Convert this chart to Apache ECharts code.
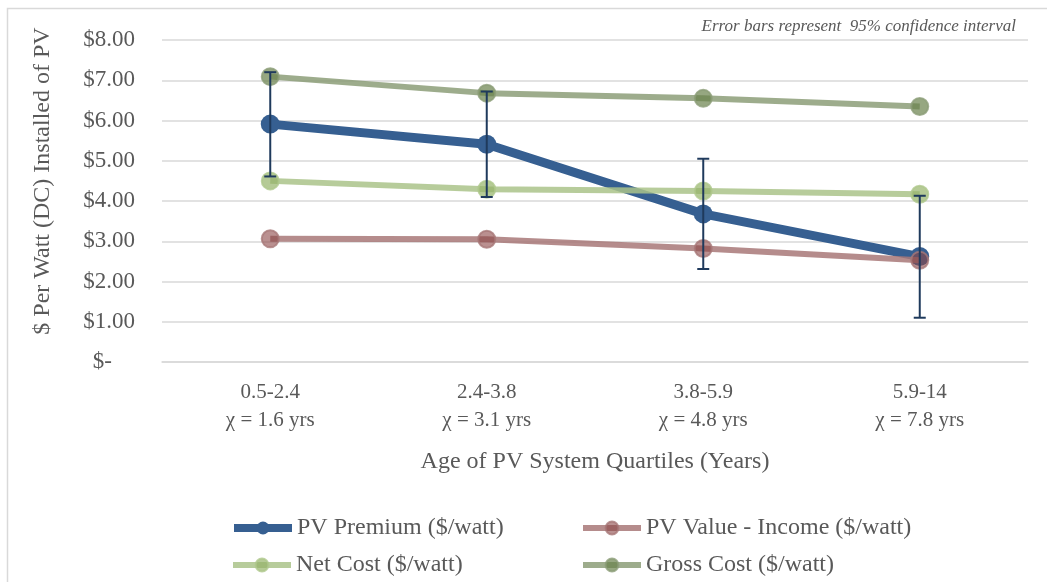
<!DOCTYPE html>
<html>
<head>
<meta charset="utf-8">
<script src="https://cdn.jsdelivr.net/npm/echarts@6/dist/echarts.min.js"></script>
<style>
  html, body { margin: 0; padding: 0; background: #fff; }
  #chart { width: 1047px; height: 582px; }
</style>
</head>
<body>
<div id="chart"></div>
<script>
const categories = ['0.5-2.4\nχ = 1.6 yrs', '2.4-3.8\nχ = 3.1 yrs', '3.8-5.9\nχ = 4.8 yrs', '5.9-14\nχ = 7.8 yrs']
const pvPremium = [5.91, 5.41, 3.68, 2.62]
const premiumLow = [4.61, 4.1, 2.31, 1.1]
const premiumHigh = [7.2, 6.72, 5.05, 4.13]
const pvValue = [3.06, 3.05, 2.82, 2.53]
const netCost = [4.5, 4.29, 4.25, 4.17]
const grossCost = [7.09, 6.68, 6.55, 6.35]
const yTicks = { min: 0, max: 8, interval: 1 }

const font = 'Liberation Serif'
const grey = '#595959'

const errData = categories.map((c, i) => [i, premiumLow[i], premiumHigh[i]])

// one legend per item so the two columns line up like the original
const legendItem = (name, left, top, width) => ({
  left, top,
  padding: 0,
  itemWidth: 58, itemHeight: 16,
  data: [name],
  lineStyle: { width },
  textStyle: { fontFamily: font, fontSize: 24, color: grey }
})

const chart = echarts.init(document.getElementById('chart'))
const option = {
  animation: false,
  textStyle: { fontFamily: font },
  grid: { left: 162, right: 19, top: 40, bottom: 220 },
  graphic: [
    {
      type: 'rect',
      shape: { x: 7.5, y: 8.5, width: 1060, height: 600 },
      style: { fill: 'none', stroke: '#d9d9d9', lineWidth: 1.5 },
      silent: true
    },
    {
      type: 'text',
      right: 31, top: 18,
      style: { text: 'Error bars represent  95% confidence interval', font: 'italic 17px "Liberation Serif"', fill: grey }
    }
  ],
  legend: [
    legendItem('PV Premium ($/watt)', 230, 516, 8),
    legendItem('Net Cost ($/watt)', 230, 553, 6),
    legendItem('PV Value - Income ($/watt)', 580, 516, 6),
    legendItem('Gross Cost ($/watt)', 580, 553, 6)
  ],
  xAxis: {
    type: 'category',
    data: categories,
    boundaryGap: true,
    axisLine: { lineStyle: { color: '#d9d9d9', width: 1.5 } },
    axisTick: { show: false },
    axisLabel: { fontFamily: font, fontSize: 21, lineHeight: 28, color: grey, margin: 16, interval: 0 },
    name: 'Age of PV System Quartiles (Years)',
    nameLocation: 'middle',
    nameGap: 88,
    nameTextStyle: { fontFamily: font, fontSize: 24, color: grey }
  },
  yAxis: {
    type: 'value',
    min: yTicks.min, max: yTicks.max, interval: yTicks.interval,
    axisLine: { show: false },
    axisTick: { show: false },
    splitLine: { lineStyle: { color: '#d9d9d9', width: 1.5 } },
    axisLabel: {
      fontFamily: font, fontSize: 23, color: grey, margin: 27,
      formatter: (v) => (v === 0 ? '$-    ' : '$' + v.toFixed(2))
    },
    name: '$ Per Watt (DC) Installed of PV',
    nameLocation: 'middle',
    nameGap: 107,
    nameTextStyle: { fontFamily: font, fontSize: 24, color: grey, padding: [0, 0, 0, 40] }
  },
  series: [
    {
      name: 'PV Premium ($/watt)',
      type: 'line',
      data: pvPremium,
      symbol: 'circle', symbolSize: 19,
      lineStyle: { color: '#365f91', width: 9 },
      itemStyle: { color: '#365f91' },
      z: 3
    },
    {
      name: 'PV Value - Income ($/watt)',
      type: 'line',
      data: pvValue,
      symbol: 'circle', symbolSize: 17,
      lineStyle: { color: '#a87878', width: 6, opacity: 0.85 },
      itemStyle: { color: 'rgba(140,70,70,0.6)', borderColor: 'rgba(168,120,120,0.8)', borderWidth: 2 },
      z: 4
    },
    {
      name: 'Net Cost ($/watt)',
      type: 'line',
      data: netCost,
      symbol: 'circle', symbolSize: 17,
      lineStyle: { color: '#aac38a', width: 6, opacity: 0.85 },
      itemStyle: { color: 'rgba(150,180,105,0.7)', borderColor: 'rgba(175,200,140,0.8)', borderWidth: 2 },
      z: 4
    },
    {
      name: 'Gross Cost ($/watt)',
      type: 'line',
      data: grossCost,
      symbol: 'circle', symbolSize: 17,
      lineStyle: { color: '#8c9e78', width: 6, opacity: 0.85 },
      itemStyle: { color: 'rgba(105,130,75,0.7)', borderColor: 'rgba(140,158,120,0.8)', borderWidth: 2 },
      z: 4
    },
    {
      name: 'errorbars',
      type: 'custom',
      data: errData,
      encode: { x: 0, y: [1, 2] },
      z: 10,
      renderItem: (params, api) => {
        const lo = api.coord([api.value(0), api.value(1)])
        const hi = api.coord([api.value(0), api.value(2)])
        const w = 6
        const style = { stroke: '#1f3a5c', lineWidth: 2 }
        return {
          type: 'group',
          children: [
            { type: 'line', shape: { x1: hi[0], y1: hi[1], x2: lo[0], y2: lo[1] }, style },
            { type: 'line', shape: { x1: hi[0] - w, y1: hi[1], x2: hi[0] + w, y2: hi[1] }, style },
            { type: 'line', shape: { x1: lo[0] - w, y1: lo[1], x2: lo[0] + w, y2: lo[1] }, style }
          ]
        }
      }
    }
  ]
}
chart.setOption(option)
window.addEventListener('resize', () => chart.resize())
</script>
</body>
</html>
